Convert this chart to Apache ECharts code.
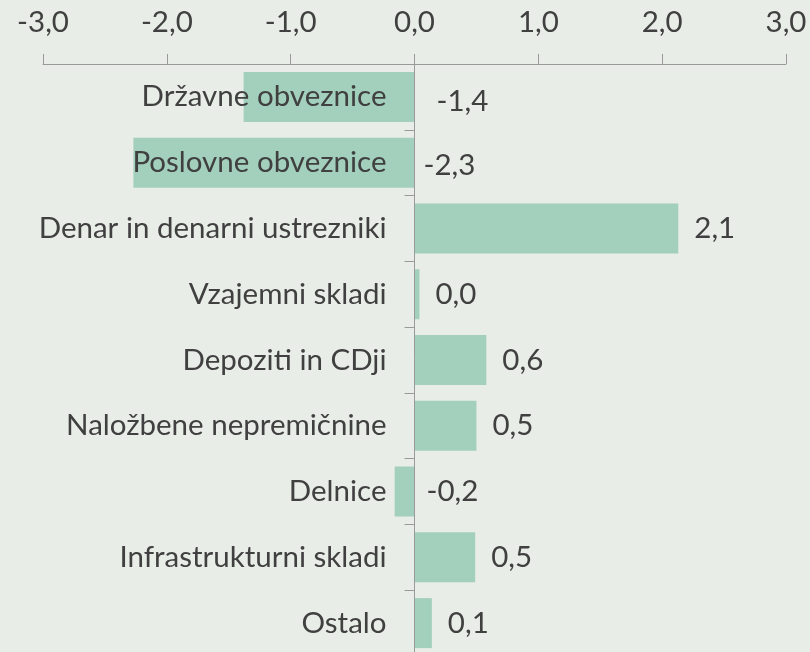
<!DOCTYPE html>
<html>
<head>
<meta charset="utf-8">
<script src="https://cdn.jsdelivr.net/npm/echarts@6/dist/echarts.min.js"></script>
<style>
  html, body { margin: 0; padding: 0; background: #e8ede7; }
  #main { width: 810px; height: 652px; }
</style>
</head>
<body>
<div id="main"></div>
<script>
// kategorije (od zgoraj navzdol)
const categories = [
  "Državne obveznice",
  "Poslovne obveznice",
  "Denar in denarni ustrezniki",
  "Vzajemni skladi",
  "Depoziti in CDji",
  "Naložbene nepremičnine",
  "Delnice",
  "Infrastrukturni skladi",
  "Ostalo"
];
const values = [-1.38, -2.27, 2.13, 0.04, 0.58, 0.5, -0.16, 0.49, 0.14];
const xTicks = [-3, 3, 1]; // min, max, interval

// ročni zamiki nekaterih oznak vrednosti
const labelShift = { 0: [6, 5], 1: [-7, 3], 6: [-4, 0] };

const fmt = (v) => v.toFixed(1).replace(".", ",");
const font = "Lato, 'Open Sans', sans-serif";
const textColor = "#404040";
const lineColor = "#9a9a9a";

const gridLeft = 43;
const gridRight = 24;
const chartWidth = 810;
// os y postavimo na ničlo osi x
const zeroShift = ((chartWidth - gridLeft - gridRight) * (0 - xTicks[0])) / (xTicks[1] - xTicks[0]);

const chart = echarts.init(document.getElementById("main"));

const option = {
  backgroundColor: "#e8ede7",
  animation: false,
  grid: { left: gridLeft, right: gridRight, top: 64, bottom: -4, containLabel: false, outerBoundsMode: "none" },
  xAxis: {
    type: "value",
    position: "top",
    min: xTicks[0],
    max: xTicks[1],
    interval: xTicks[2],
    axisLine: { show: true, lineStyle: { color: lineColor, width: 1 } },
    axisTick: { show: true, length: 10, lineStyle: { color: lineColor } },
    splitLine: { show: false },
    axisLabel: {
      margin: 27,
      formatter: (v) => fmt(v),
      color: textColor,
      fontFamily: font,
      fontSize: 29.5
    }
  },
  yAxis: {
    type: "category",
    inverse: true,
    data: categories,
    z: 10,
    offset: -zeroShift,
    axisLine: { show: true, onZero: false, lineStyle: { color: lineColor, width: 1 } },
    axisTick: { show: true, length: 10, lineStyle: { color: lineColor } },
    axisLabel: {
      margin: 28,
      color: textColor,
      fontFamily: font,
      fontSize: 29.5
    }
  },
  series: [
    {
      type: "bar",
      barCategoryGap: "24%",
      itemStyle: { color: "#a3cfbd" },
      label: {
        show: true,
        position: "right",
        distance: 16,
        color: textColor,
        fontFamily: font,
        fontSize: 29.5,
        formatter: (p) => fmt(p.value)
      },
      data: values.map((v, i) => {
        const item = { value: v };
        if (labelShift[i]) item.label = { offset: labelShift[i] };
        return item;
      })
    }
  ]
};

chart.setOption(option);
</script>
</body>
</html>
